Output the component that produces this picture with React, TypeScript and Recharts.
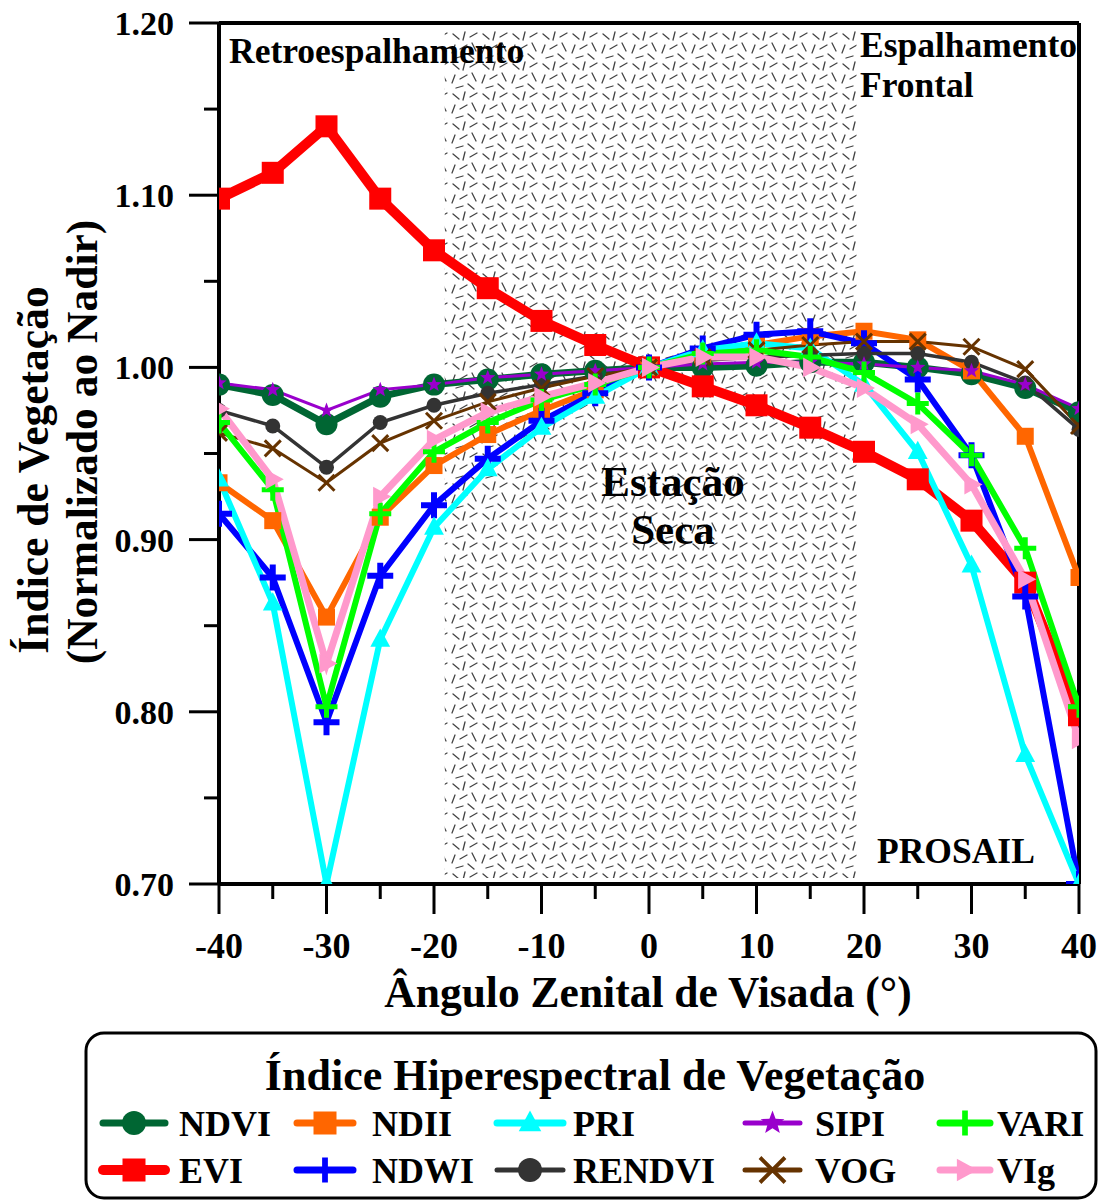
import React from 'react';
import { LineChart, Line, XAxis, YAxis, ReferenceArea, ReferenceLine } from 'recharts';

const angles = [-40, -35, -30, -25, -20, -15, -10, -5, 0, 5, 10, 15, 20, 25, 30, 35, 40];
const xTicks = [-40, -35, -30, -25, -20, -15, -10, -5, 0, 5, 10, 15, 20, 25, 30, 35, 40];
const yTicks = [0.7, 0.75, 0.8, 0.85, 0.9, 0.95, 1.0, 1.05, 1.1, 1.15, 1.2];

const ndvi = [0.990, 0.984, 0.967, 0.983, 0.990, 0.993, 0.996, 0.998, 1.000, 1.000, 1.001, 1.003, 1.003, 1.000, 0.996, 0.988, 0.974];
const evi = [1.098, 1.113, 1.140, 1.098, 1.068, 1.046, 1.027, 1.013, 1.000, 0.989, 0.978, 0.965, 0.951, 0.935, 0.911, 0.875, 0.798];
const ndii = [0.933, 0.911, 0.855, 0.913, 0.943, 0.961, 0.975, 0.987, 1.000, 1.007, 1.013, 1.018, 1.021, 1.016, 0.998, 0.960, 0.878];
const ndwi = [0.915, 0.878, 0.794, 0.879, 0.920, 0.947, 0.969, 0.985, 1.000, 1.011, 1.019, 1.021, 1.014, 0.993, 0.949, 0.867, 0.700];
const pri = [0.935, 0.863, 0.700, 0.842, 0.907, 0.941, 0.965, 0.983, 1.000, 1.010, 1.014, 1.011, 0.990, 0.951, 0.885, 0.775, 0.700];
const rendvi = [0.975, 0.966, 0.942, 0.968, 0.978, 0.985, 0.990, 0.995, 1.000, 1.004, 1.006, 1.007, 1.008, 1.008, 1.003, 0.991, 0.964];
const sipi = [0.991, 0.987, 0.975, 0.987, 0.990, 0.994, 0.996, 0.998, 1.000, 1.002, 1.003, 1.003, 1.002, 1.000, 0.998, 0.990, 0.976];
const vog = [0.962, 0.953, 0.933, 0.956, 0.969, 0.980, 0.988, 0.995, 1.000, 1.006, 1.010, 1.013, 1.015, 1.015, 1.012, 0.999, 0.966];
const vari = [0.968, 0.929, 0.803, 0.915, 0.951, 0.968, 0.981, 0.990, 1.000, 1.008, 1.010, 1.006, 0.997, 0.979, 0.949, 0.895, 0.803];
const vig = [0.976, 0.935, 0.828, 0.925, 0.958, 0.974, 0.983, 0.991, 1.000, 1.006, 1.006, 1.000, 0.988, 0.967, 0.932, 0.877, 0.784];

const FONT = '"Liberation Serif", "Times New Roman", serif';

type Shape = 'circle' | 'square' | 'plus' | 'triangle' | 'star' | 'x' | 'rtriangle';

interface SeriesDef {
  key: string;
  values: number[];
  color: string;
  width: number;
  shape: Shape;
  size: number;
  mstroke?: number;
  legendWidth: number;
}

const series: SeriesDef[] = [
  { key: 'NDVI', values: ndvi, color: '#006633', width: 7, shape: 'circle', size: 11, legendWidth: 7 },
  { key: 'EVI', values: evi, color: '#ff0000', width: 10, shape: 'square', size: 11, legendWidth: 10 },
  { key: 'NDII', values: ndii, color: '#ff6600', width: 6, shape: 'square', size: 8.5, legendWidth: 7 },
  { key: 'NDWI', values: ndwi, color: '#0000ff', width: 6, shape: 'plus', size: 13, mstroke: 6, legendWidth: 7 },
  { key: 'PRI', values: pri, color: '#00ffff', width: 6, shape: 'triangle', size: 11, legendWidth: 7 },
  { key: 'RENDVI', values: rendvi, color: '#333333', width: 3.5, shape: 'circle', size: 7.5, legendWidth: 5 },
  { key: 'SIPI', values: sipi, color: '#9900cc', width: 3, shape: 'star', size: 8, legendWidth: 5 },
  { key: 'VOG', values: vog, color: '#663300', width: 3, shape: 'x', size: 8, mstroke: 3, legendWidth: 5 },
  { key: 'VARI', values: vari, color: '#00ff00', width: 6, shape: 'plus', size: 11, mstroke: 5, legendWidth: 7 },
  { key: 'VIg', values: vig, color: '#ff99cc', width: 7, shape: 'rtriangle', size: 11, legendWidth: 7 },
];

const legendRows: string[][] = [
  ['NDVI', 'NDII', 'PRI', 'SIPI', 'VARI'],
  ['EVI', 'NDWI', 'RENDVI', 'VOG', 'VIg'],
];

const data = angles.map((a, i) => {
  const row: Record<string, number> = { angle: a };
  series.forEach((s) => {
    row[s.key] = s.values[i];
  });
  return row;
});

function Marker({ s, cx, cy, scale = 1 }: { s: SeriesDef; cx: number; cy: number; scale?: number }) {
  const r = s.size * scale;
  const c = s.color;
  switch (s.shape) {
    case 'circle':
      return <circle cx={cx} cy={cy} r={r} fill={c} />;
    case 'square':
      return <rect x={cx - r} y={cy - r} width={2 * r} height={2 * r} fill={c} />;
    case 'plus':
      return (
        <path
          d={`M${cx - r},${cy}H${cx + r}M${cx},${cy - r}V${cy + r}`}
          stroke={c}
          strokeWidth={(s.mstroke || 5) * Math.min(scale, 1.15)}
          fill="none"
        />
      );
    case 'x':
      return (
        <path
          d={`M${cx - r},${cy - r}L${cx + r},${cy + r}M${cx - r},${cy + r}L${cx + r},${cy - r}`}
          stroke={c}
          strokeWidth={(s.mstroke || 3) * Math.min(scale, 1.3)}
          fill="none"
        />
      );
    case 'triangle':
      return (
        <polygon
          points={`${cx},${cy - r} ${cx + r * 0.9},${cy + r * 0.65} ${cx - r * 0.9},${cy + r * 0.65}`}
          fill={c}
        />
      );
    case 'rtriangle':
      return (
        <polygon
          points={`${cx + r},${cy} ${cx - r * 0.65},${cy - r * 0.9} ${cx - r * 0.65},${cy + r * 0.9}`}
          fill={c}
        />
      );
    case 'star': {
      const pts: string[] = [];
      for (let k = 0; k < 10; k++) {
        const rad = k % 2 === 0 ? r : r * 0.42;
        const ang = -Math.PI / 2 + (k * Math.PI) / 5;
        pts.push(`${cx + rad * Math.cos(ang)},${cy + rad * Math.sin(ang)}`);
      }
      return <polygon points={pts.join(' ')} fill={c} />;
    }
    default:
      return null;
  }
}

function XTick(props: any) {
  const { x, y, payload } = props;
  const v = payload.value as number;
  const major = Math.round(v) % 10 === 0;
  return (
    <g>
      <line x1={x} x2={x} y1={y} y2={y + (major ? 30 : 15)} stroke="#000" strokeWidth={3} />
      {major && (
        <text x={x} y={y + 74} textAnchor="middle" fontFamily={FONT} fontWeight="bold" fontSize={36} fill="#000">
          {String(v)}
        </text>
      )}
    </g>
  );
}

function YTick(props: any) {
  const { x, y, payload } = props;
  const v = payload.value as number;
  const major = Math.round(v * 100) % 10 === 0;
  return (
    <g>
      <line x1={x} x2={x - (major ? 30 : 15)} y1={y} y2={y} stroke="#000" strokeWidth={3} />
      {major && (
        <text x={x - 45} y={y + 12} textAnchor="end" fontFamily={FONT} fontWeight="bold" fontSize={34} fill="#000">
          {v.toFixed(2)}
        </text>
      )}
    </g>
  );
}

const txt = { fontFamily: FONT, fontWeight: 'bold' as const, fill: '#000' };

export default function App() {
  const colX1 = [103, 297, 497, 745, 940];
  const colX2 = [165, 353, 563, 800, 990];
  const labX = [179, 372, 573, 815, 997];
  const rowY = [1123, 1170];
  return (
    <div style={{ position: 'absolute', left: 0, top: 0, width: 1101, height: 1202, background: '#fff' }}>
      <svg width={0} height={0} style={{ position: 'absolute' }}>
        <defs>
          <pattern id="hatch" patternUnits="userSpaceOnUse" width="30" height="30">
            <g stroke="#444" strokeWidth="1.3" strokeLinecap="round">
              <line x1="3" y1="4" x2="9" y2="9" />
              <line x1="15" y1="2" x2="13" y2="10" />
              <line x1="20" y1="7" x2="27" y2="3" />
              <line x1="5" y1="15" x2="2" y2="23" />
              <line x1="10" y1="19" x2="17" y2="15" />
              <line x1="22" y1="13" x2="26" y2="21" />
              <line x1="6" y1="28" x2="13" y2="26" />
              <line x1="18" y1="24" x2="24" y2="29" />
            </g>
          </pattern>
        </defs>
      </svg>
      <div style={{ position: 'absolute', left: 0, top: 0 }}>
        <LineChart width={1101} height={1030} data={data} margin={{ top: 23, right: 22, left: 0, bottom: 0 }}>
          <ReferenceArea x1={-19} x2={19.3} y1={0.7035} y2={1.196} fill="url(#hatch)" fillOpacity={1} stroke="none" ifOverflow="visible" />
          <ReferenceLine y={1.2} stroke="#000" strokeWidth={4} ifOverflow="visible" />
          <ReferenceLine x={40} stroke="#000" strokeWidth={4} ifOverflow="visible" />
          <XAxis
            dataKey="angle"
            type="number"
            domain={[-40, 40]}
            ticks={xTicks}
            interval={0}
            height={146}
            axisLine={{ stroke: '#000', strokeWidth: 4 }}
            tickLine={false}
            tickSize={0}
            tickMargin={0}
            tick={<XTick />}
            allowDataOverflow
          />
          <YAxis
            type="number"
            domain={[0.7, 1.2]}
            ticks={yTicks}
            interval={0}
            width={219}
            axisLine={{ stroke: '#000', strokeWidth: 4 }}
            tickLine={false}
            tickSize={0}
            tickMargin={0}
            tick={<YTick />}
            allowDataOverflow
          />
          {series.map((s) => (
            <Line
              key={s.key}
              dataKey={s.key}
              type="linear"
              stroke={s.color}
              strokeWidth={s.width}
              isAnimationActive={false}
              strokeLinejoin="miter"
              dot={(p: any) => <Marker key={`${s.key}-${p.index}`} s={s} cx={p.cx} cy={p.cy} />}
              activeDot={false}
            />
          ))}
        </LineChart>
      </div>
      <svg width={1101} height={1202} style={{ position: 'absolute', left: 0, top: 0, pointerEvents: 'none' }}>
        <text x={229} y={63} fontSize={35.5} {...txt}>Retroespalhamento</text>
        <text x={860} y={57} fontSize={35.5} {...txt}>Espalhamento</text>
        <text x={860} y={97} fontSize={35.5} {...txt}>Frontal</text>
        <text x={673} y={496} fontSize={43} textAnchor="middle" {...txt}>Estação</text>
        <text x={673} y={544} fontSize={43} textAnchor="middle" {...txt}>Seca</text>
        <text x={877} y={863} fontSize={35.5} {...txt}>PROSAIL</text>
        <text x={648} y={1007} fontSize={43.5} textAnchor="middle" {...txt}>Ângulo Zenital de Visada (°)</text>
        <text transform="translate(48,470) rotate(-90)" fontSize={43.5} textAnchor="middle" {...txt}>Índice de Vegetação</text>
        <text transform="translate(97,442) rotate(-90)" fontSize={43.5} textAnchor="middle" {...txt}>(Normalizado ao Nadir)</text>

        <rect x={86} y={1033} width={1010} height={165} rx={18} ry={18} fill="#fff" stroke="#000" strokeWidth={3} />
        <text x={595} y={1090} fontSize={44} textAnchor="middle" {...txt}>Índice Hiperespectral de Vegetação</text>
        {legendRows.map((row, ri) =>
          row.map((k, ci) => {
            const s = series.find((q) => q.key === k)!;
            const y = rowY[ri];
            const cx = (colX1[ci] + colX2[ci]) / 2;
            return (
              <g key={k}>
                <line
                  x1={colX1[ci]}
                  x2={colX2[ci]}
                  y1={y}
                  y2={y}
                  stroke={s.color}
                  strokeWidth={s.legendWidth}
                  strokeLinecap="round"
                />
                <Marker s={s} cx={cx} cy={y} scale={s.shape === 'square' ? 11.5 / s.size : s.shape === 'circle' ? 12 / s.size : 12.5 / s.size} />
                <text x={labX[ci]} y={y + 13} fontSize={36} {...txt}>{k}</text>
              </g>
            );
          })
        )}
      </svg>
    </div>
  );
}
